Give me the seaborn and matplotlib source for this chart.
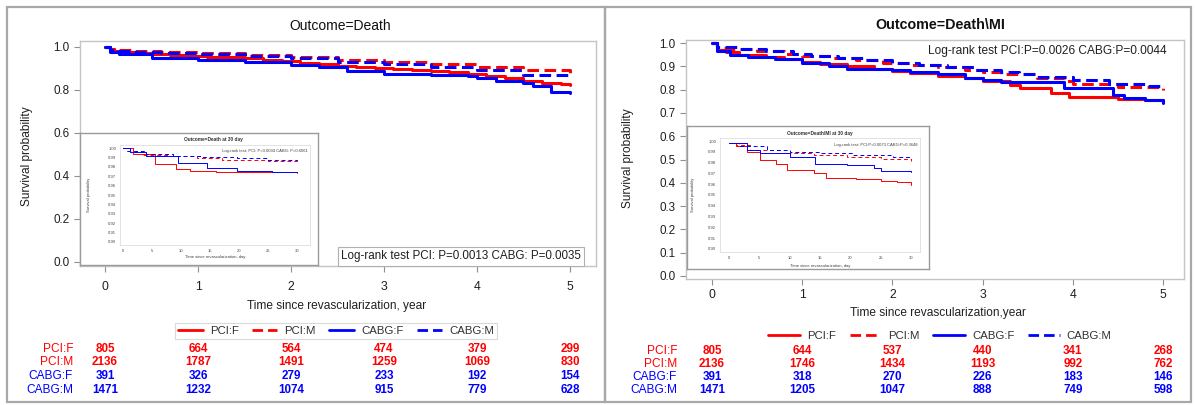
import numpy as np
import pandas as pd
import matplotlib
matplotlib.use("Agg")
import matplotlib.pyplot as plt
import seaborn as sns
from matplotlib.transforms import blended_transform_factory
from matplotlib.patches import Rectangle

sns.set_style("white")
plt.rcParams["font.family"] = ["Liberation Sans", "DejaVu Sans"]

groups = ["PCI:F", "PCI:M", "CABG:F", "CABG:M"]
palette = {"PCI:F": "#ff0000", "PCI:M": "#ff0000", "CABG:F": "#0000ff", "CABG:M": "#0000ff"}
row_colors = ["#ff0000", "#ff0000", "#0000ff", "#0000ff"]

# ---------------- Panel A: Outcome=Death (years) ----------------
a_pcif_t = [0, 0.05, 0.1, 0.2, 0.35, 0.5, 0.7, 0.9, 1.1, 1.3, 1.5, 1.7, 1.9, 2.1, 2.3, 2.5, 2.7, 2.9, 3.1, 3.3, 3.5, 3.7, 3.9, 4.1, 4.3, 4.5, 4.7, 4.9, 5.0]
a_pcif_s = [1.0, 0.99, 0.98, 0.975, 0.97, 0.966, 0.962, 0.958, 0.954, 0.95, 0.945, 0.94, 0.933, 0.925, 0.918, 0.912, 0.906, 0.9, 0.895, 0.89, 0.885, 0.88, 0.872, 0.862, 0.852, 0.842, 0.832, 0.825, 0.82]
a_pcim_t = [0, 0.05, 0.1, 0.3, 0.6, 1.0, 1.5, 2.0, 2.5, 3.0, 3.5, 4.0, 4.5, 5.0]
a_pcim_s = [1.0, 0.99, 0.985, 0.98, 0.975, 0.97, 0.96, 0.95, 0.94, 0.93, 0.92, 0.905, 0.89, 0.877]
a_cabgf_t = [0, 0.05, 0.15, 0.5, 1.0, 1.5, 2.0, 2.3, 2.6, 3.0, 3.5, 3.9, 4.0, 4.2, 4.5, 4.6, 4.8, 5.0]
a_cabgf_s = [1.0, 0.975, 0.964, 0.945, 0.937, 0.928, 0.914, 0.905, 0.886, 0.875, 0.87, 0.865, 0.855, 0.842, 0.83, 0.815, 0.79, 0.785]
a_cabgm_t = [0, 0.05, 0.1, 0.3, 0.6, 1.0, 1.5, 2.0, 2.5, 3.0, 3.5, 4.0, 4.5, 5.0]
a_cabgm_s = [1.0, 0.985, 0.98, 0.975, 0.97, 0.965, 0.955, 0.945, 0.93, 0.92, 0.905, 0.89, 0.87, 0.855]

# ---------------- Panel B: Outcome=Death\MI (years) ----------------
b_pcif_t = [0, 0.05, 0.15, 0.3, 0.6, 0.8, 1.0, 1.2, 1.5, 1.8, 2.0, 2.2, 2.5, 2.8, 3.0, 3.3, 3.42, 3.76, 3.96, 4.5, 4.8, 5.0]
b_pcif_s = [1.0, 0.97, 0.96, 0.95, 0.94, 0.93, 0.92, 0.91, 0.9, 0.89, 0.88, 0.87, 0.86, 0.85, 0.835, 0.82, 0.806, 0.786, 0.767, 0.76, 0.755, 0.745]
b_pcim_t = [0, 0.05, 0.2, 0.5, 0.8, 1.0, 1.3, 1.6, 1.9, 2.2, 2.5, 2.8, 3.0, 3.2, 3.6, 3.9, 4.0, 4.5, 5.0]
b_pcim_s = [1.0, 0.98, 0.975, 0.965, 0.955, 0.945, 0.935, 0.925, 0.915, 0.905, 0.895, 0.885, 0.875, 0.865, 0.85, 0.835, 0.826, 0.812, 0.80]
b_cabgf_t = [0, 0.05, 0.2, 0.4, 0.7, 1.0, 1.3, 1.5, 2.0, 2.2, 2.5, 2.8, 3.0, 3.2, 3.9, 4.45, 4.57, 4.8, 5.0]
b_cabgf_s = [1.0, 0.965, 0.95, 0.94, 0.93, 0.915, 0.9, 0.89, 0.885, 0.875, 0.865, 0.85, 0.84, 0.834, 0.806, 0.777, 0.763, 0.756, 0.742]
b_cabgm_t = [0, 0.05, 0.3, 0.6, 0.9, 1.1, 1.4, 1.7, 2.0, 2.3, 2.6, 2.9, 3.2, 3.4, 3.6, 4.0, 4.4, 4.8, 5.0]
b_cabgm_s = [1.0, 0.985, 0.975, 0.965, 0.955, 0.945, 0.935, 0.925, 0.915, 0.905, 0.895, 0.885, 0.877, 0.865, 0.855, 0.84, 0.826, 0.815, 0.81]

# ---------------- Insets (days) ----------------
ia_pcif_t = [0, 1.7, 5.5, 9.2, 11.5, 16, 30]
ia_pcif_s = [1.0, 0.994, 0.983, 0.978, 0.976, 0.974, 0.9735]
ia_pcim_t = [0, 1.2, 3.5, 7.5, 12.7, 17, 25, 30]
ia_pcim_s = [1.0, 0.996, 0.993, 0.991, 0.989, 0.9876, 0.986, 0.9857]
ia_cabgf_t = [0, 1.2, 4.0, 9.5, 14.5, 19.6, 25.7, 30]
ia_cabgf_s = [1.0, 0.996, 0.992, 0.984, 0.979, 0.976, 0.974, 0.974]
ia_cabgm_t = [0, 0.6, 4.0, 8.6, 13.3, 19.6, 25, 30]
ia_cabgm_s = [1.0, 0.997, 0.994, 0.992, 0.990, 0.989, 0.987, 0.986]

ib_pcif_t = [0, 1.2, 2.9, 5.1, 7.8, 9.5, 14, 16, 21, 25, 27.7, 30]
ib_pcif_s = [0.998, 0.995, 0.990, 0.982, 0.979, 0.973, 0.970, 0.966, 0.965, 0.963, 0.962, 0.959]
ib_pcim_t = [0, 1.2, 3.4, 8.4, 14, 19.4, 25, 30]
ib_pcim_s = [0.998, 0.996, 0.992, 0.989, 0.987, 0.985, 0.983, 0.9815]
ib_cabgf_t = [0, 2.9, 5.1, 10, 14.2, 19.4, 23.9, 25, 30]
ib_cabgf_s = [0.998, 0.992, 0.989, 0.985, 0.979, 0.978, 0.975, 0.972, 0.971]
ib_cabgm_t = [0, 1.7, 6.2, 10, 15, 20.5, 27, 30]
ib_cabgm_s = [0.998, 0.995, 0.992, 0.990, 0.989, 0.987, 0.9855, 0.984]

# ---------------- Numbers at risk ----------------
risk_years = [0, 1, 2, 3, 4, 5]
a_risk_pcif = [805, 664, 564, 474, 379, 299]
a_risk_pcim = [2136, 1787, 1491, 1259, 1069, 830]
a_risk_cabgf = [391, 326, 279, 233, 192, 154]
a_risk_cabgm = [1471, 1232, 1074, 915, 779, 628]
b_risk_pcif = [805, 644, 537, 440, 341, 268]
b_risk_pcim = [2136, 1746, 1434, 1193, 992, 762]
b_risk_cabgf = [391, 318, 270, 226, 183, 146]
b_risk_cabgm = [1471, 1205, 1047, 888, 749, 598]

a_title = "Outcome=Death"
b_title = "Outcome=Death\\MI"
a_logrank = "Log-rank test PCI: P=0.0013 CABG: P=0.0035"
b_logrank = "Log-rank test PCI:P=0.0026 CABG:P=0.0044"
ia_title = "Outcome=Death at 30 day"
ib_title = "Outcome=Death\\MI at 30 day"
ia_logrank = "Log-rank test: PCI: P=0.0034 CABG: P=0.6061"
ib_logrank = "Log-rank test: PCI:P=0.0073 CABG:P=0.3648"
xlabel_a = "Time since revascularization, year"
xlabel_b = "Time since revascularization,year"
xlabel_inset = "Time since revascularization, day"
ylabel = "Survival probability"


def frame(curves):
    rows = []
    for g, (t, s) in zip(groups, curves):
        for ti, si in zip(t, s):
            rows.append({"t": ti, "s": si, "group": g})
    return pd.DataFrame(rows)


df_a = frame([(a_pcif_t, a_pcif_s), (a_pcim_t, a_pcim_s), (a_cabgf_t, a_cabgf_s), (a_cabgm_t, a_cabgm_s)])
df_b = frame([(b_pcif_t, b_pcif_s), (b_pcim_t, b_pcim_s), (b_cabgf_t, b_cabgf_s), (b_cabgm_t, b_cabgm_s)])
df_ia = frame([(ia_pcif_t, ia_pcif_s), (ia_pcim_t, ia_pcim_s), (ia_cabgf_t, ia_cabgf_s), (ia_cabgm_t, ia_cabgm_s)])
df_ib = frame([(ib_pcif_t, ib_pcif_s), (ib_pcim_t, ib_pcim_s), (ib_cabgf_t, ib_cabgf_s), (ib_cabgm_t, ib_cabgm_s)])

W, H = 1196, 405
fig = plt.figure(figsize=(W / 100, H / 100), dpi=100)


def rect(x0, x1, y0, y1):
    return [x0 / W, 1 - y1 / H, (x1 - x0) / W, (y1 - y0) / H]


# panel borders
for (x0, x1) in [(7, 605), (605, 1191)]:
    fig.add_artist(Rectangle((x0 / W, 1 - 402 / H), (x1 - x0) / W, 395 / H,
                             transform=fig.transFigure, fill=False,
                             edgecolor="#a8a8a8", lw=1.6))

main_dash = (3.8, 1.8)


def draw_main(axrect, df, xlim, ylim, yticks, title, title_w, xlab, lab_coords,
              title_y, tick_pad_x, risk_lists, risk_y, label_x, legend_xy, legend_frame,
              handlelength):
    x0, x1, y0, y1 = axrect
    ax = fig.add_axes(rect(x0, x1, y0, y1))
    sns.lineplot(data=df, x="t", y="s", hue="group", style="group",
                 hue_order=groups, style_order=groups, palette=palette,
                 dashes={"PCI:F": "", "PCI:M": main_dash, "CABG:F": "", "CABG:M": main_dash},
                 estimator=None, drawstyle="steps-post", lw=2.2, ax=ax, legend=True)
    handles, labels = ax.get_legend_handles_labels()
    ax.get_legend().remove()
    ax.set_xlim(*xlim)
    ax.set_ylim(*ylim)
    ax.set_xticks(risk_years)
    ax.set_yticks(yticks)
    ax.set_yticklabels([f"{v:.1f}" for v in yticks])
    for sp in ax.spines.values():
        sp.set_color("#c4c4c4")
        sp.set_linewidth(1.0)
    ax.tick_params(axis="x", length=4, width=0.8, color="#909090", pad=tick_pad_x,
                   labelsize=8.8, labelcolor="#202020", bottom=True)
    ax.tick_params(axis="y", length=4, width=0.8, color="#909090", pad=3.5,
                   labelsize=8.4, labelcolor="#202020", left=True)
    ax.set_xlabel(xlab, fontsize=8.6, color="#202020")
    ax.set_ylabel(ylabel, fontsize=8.6, color="#202020")
    ax.xaxis.set_label_coords(*lab_coords[0])
    ax.yaxis.set_label_coords(*lab_coords[1])
    fig.text((x0 + x1) / 2 / W if title_w is None else title_w / W, 1 - title_y / H, title,
             ha="center", va="center", fontsize=10 if "MI" not in title else 10.3,
             fontweight="normal" if "MI" not in title else "bold", color="#111111")
    # numbers at risk
    tr = blended_transform_factory(ax.transData, fig.transFigure)
    for lab, vals, col, yy in zip(groups, risk_lists, row_colors, risk_y):
        fig.text(label_x / W, 1 - yy / H, lab, ha="right", va="center",
                 fontsize=8.6, color=col)
        for xv, v in zip(risk_years, vals):
            ax.text(xv, 1 - yy / H, str(v), transform=tr, ha="center", va="center",
                    fontsize=8.4, fontweight="bold", color=col, clip_on=False)
    for h in handles:
        h.set_linewidth(2.0)
    leg = fig.legend(handles, labels, loc="center", bbox_to_anchor=(legend_xy[0] / W, 1 - legend_xy[1] / H),
                     ncol=4, fontsize=8.2, frameon=legend_frame, handlelength=handlelength,
                     columnspacing=1.2, handletextpad=0.6, borderpad=0.3, fancybox=False)
    if legend_frame:
        leg.get_frame().set_edgecolor("#d0d0d0")
        leg.get_frame().set_linewidth(0.8)
    for t in leg.get_texts():
        t.set_color("#303030")
    return ax


ax_a = draw_main((80, 596, 41, 266), df_a, (-0.27, 5.28), (-0.019, 1.026),
                 [0.0, 0.2, 0.4, 0.6, 0.8, 1.0], a_title, 340, xlabel_a,
                 ((0.498, -0.150), (-0.092, 0.49)), 26, 6.5,
                 [a_risk_pcif, a_risk_pcim, a_risk_cabgf, a_risk_cabgm],
                 [348.5, 362, 376, 390], 73, (336, 331), True, 2.2)
ax_a.text((461 - 80) / 516, (266 - 256) / 225, a_logrank, transform=ax_a.transAxes,
          ha="center", va="center", fontsize=8.4, color="#202020",
          bbox=dict(boxstyle="square,pad=0.3", fc="white", ec="#b0b0b0", lw=0.8), zorder=5)

ax_b = draw_main((686, 1184, 40, 279), df_b, (-0.289, 5.233), (-0.013, 1.013),
                 [round(0.1 * i, 1) for i in range(11)], b_title, 940, xlabel_b,
                 ((0.505, -0.118), (-0.104, 0.506)), 25, 3.5,
                 [b_risk_pcif, b_risk_pcim, b_risk_cabgf, b_risk_cabgm],
                 [351, 364, 377, 390], 677, (940, 336), False, 2.8)
ax_b.text((1047 - 686) / 498, (279 - 51) / 239, b_logrank, transform=ax_b.transAxes,
          ha="center", va="center", fontsize=8.6, color="#202020", zorder=5)


def draw_inset(box, inner, df, xlim, ylim, title, title_xy, logrank, logrank_xy, ylab_x, xlab_y):
    bx = fig.add_axes(rect(*box))
    bx.set_xticks([])
    bx.set_yticks([])
    bx.set_facecolor("white")
    for sp in bx.spines.values():
        sp.set_color("#9a9a9a")
        sp.set_linewidth(1.0)
    ax = fig.add_axes(rect(*inner))
    sns.lineplot(data=df, x="t", y="s", hue="group", style="group",
                 hue_order=groups, style_order=groups, palette=palette,
                 dashes={"PCI:F": "", "PCI:M": (4, 3), "CABG:F": "", "CABG:M": (4, 3)},
                 estimator=None, drawstyle="steps-post", lw=0.7, ax=ax, legend=False)
    ax.set_xlim(*xlim)
    ax.set_ylim(*ylim)
    ax.set_xticks([0, 5, 10, 15, 20, 25, 30])
    yt = [round(0.90 + 0.01 * i, 2) for i in range(11)]
    ax.set_yticks(yt)
    ax.set_yticklabels([f"{v:.2f}" for v in yt])
    ax.set_facecolor("none")
    for k, sp in ax.spines.items():
        sp.set_color("#d8d8d8")
        sp.set_linewidth(0.5)
    ax.tick_params(length=1.5, width=0.4, color="#a0a0a0", labelsize=3, pad=1.2, labelcolor="#404040")
    ax.set_xlabel("")
    ax.set_ylabel("")
    fig.text(ylab_x / W, 1 - (inner[2] + inner[3]) / 2 / H, ylabel, rotation=90,
             ha="center", va="center", fontsize=3, color="#404040")
    fig.text((inner[0] + inner[1]) / 2 / W, 1 - xlab_y / H, xlabel_inset,
             ha="center", va="center", fontsize=3, color="#404040")
    fig.text(title_xy[0] / W, 1 - title_xy[1] / H, title, ha="center", va="center",
             fontsize=3.4, fontweight="bold", color="#303030")
    fig.text(logrank_xy[0] / W, 1 - logrank_xy[1] / H, logrank, ha="right", va="center",
             fontsize=3, color="#404040")
    return ax


draw_inset((80, 318, 133, 265), (120, 310, 145, 245), df_ia, (-0.52, 32.2), (0.8968, 1.0032),
           ia_title, (213, 140), ia_logrank, (308, 151), 89, 257)
draw_inset((687, 929, 126, 269), (720, 920, 138, 252), df_ib, (-1.48, 31.5), (0.8972, 1.0028),
           ib_title, (820, 133), ib_logrank, (917, 145), 693, 266)

fig.savefig("out.png", dpi=100)
